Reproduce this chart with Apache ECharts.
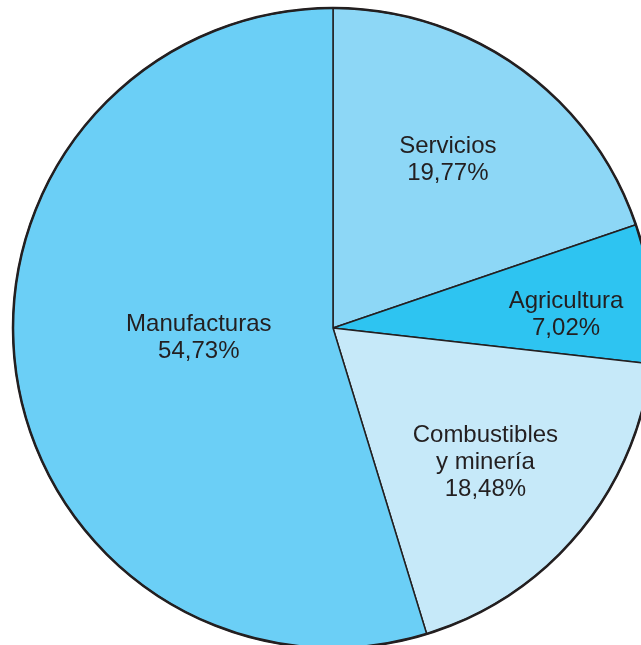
<!DOCTYPE html>
<html>
<head>
<meta charset="utf-8">
<script src="https://cdn.jsdelivr.net/npm/echarts@6/dist/echarts.min.js"></script>
<style>
  html, body { margin: 0; padding: 0; background: #ffffff; }
  #chart { width: 641px; height: 645px; }
</style>
</head>
<body>
<div id="chart"></div>
<script>
// Sector names and shares (%)
const sectors = ['Servicios', 'Agricultura', 'Combustibles\ny minería', 'Manufacturas'];
const shares = [19.77, 7.02, 18.48, 54.73];
const sliceColors = ['#8dd7f6', '#2ec4f1', '#c6e9f9', '#6bcff6'];
// Nudges for each label away from the slice's default inner anchor
const labelNudge = [[20, -36], [71, 4], [27, 30], [27, -14]];

const chart = echarts.init(document.getElementById('chart'), null, { renderer: 'canvas' });

const fmt = v => v.toFixed(2).replace('.', ',') + '%';

chart.setOption({
  animation: false,
  backgroundColor: '#ffffff',
  series: [
    {
      type: 'pie',
      center: [333, 328],
      radius: 320,
      startAngle: 90,
      clockwise: true,
      silent: true,
      data: sectors.map((name, i) => ({
        name: name,
        value: shares[i],
        itemStyle: { color: sliceColors[i] }
      })),
      itemStyle: { borderColor: '#231f20', borderWidth: 1.5 },
      label: {
        show: true,
        position: 'inside',
        formatter: p => p.name + '\n' + fmt(p.value),
        color: '#231f20',
        fontFamily: 'Liberation Sans, Arial, sans-serif',
        fontSize: 24,
        lineHeight: 27,
        align: 'center'
      },
      labelLine: { show: false },
      labelLayout: params => ({ dx: labelNudge[params.dataIndex][0], dy: labelNudge[params.dataIndex][1] })
    },
    {
      // heavier outer rim
      type: 'pie',
      center: [333, 328],
      radius: 320,
      silent: true,
      z: 3,
      data: [{ value: 1, itemStyle: { color: 'rgba(0,0,0,0)' } }],
      itemStyle: { borderColor: '#231f20', borderWidth: 2.5 },
      label: { show: false },
      labelLine: { show: false }
    }
  ]
});
</script>
</body>
</html>
